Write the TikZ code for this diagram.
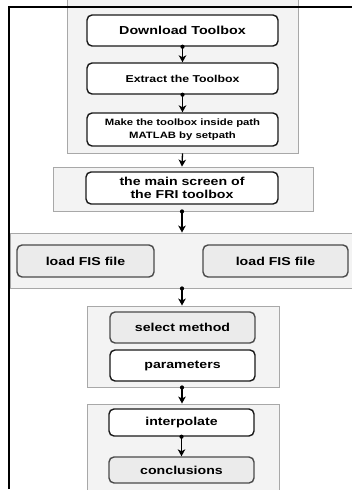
\documentclass[tikz,border=0pt]{standalone}
\usepackage{fontspec}
\setmainfont{Liberation Sans}
\newfontfamily\widesans[FakeStretch=1.23]{Liberation Sans}
\usetikzlibrary{arrows.meta}
\definecolor{panelfill}{HTML}{F3F3F3}
\definecolor{paneldraw}{HTML}{A8A8A8}
\definecolor{grayfill}{HTML}{EBEBEB}
\definecolor{graydraw}{HTML}{4A4A4A}
\newcommand{\fsz}[2]{\widesans\bfseries\fontsize{#1}{#2}\selectfont}
\tikzset{
  panel/.style={draw=paneldraw, fill=panelfill, line width=0.9pt, inner sep=0pt},
  wbox/.style={draw=black!90, fill=white, rounded corners=5pt, line width=1.4pt, inner sep=0pt, align=center, font=\fsz{11.5}{13.3}},
  gbox/.style={draw=graydraw, fill=grayfill, rounded corners=5pt, line width=1.4pt, inner sep=0pt, align=center, font=\fsz{11.5}{13.3}},
  flow/.style={-{Stealth[length=7pt,width=7.5pt,inset=2pt]}, line width=1.3pt},
  dotmark/.style={circle, fill=black, inner sep=0pt, minimum size=4.2pt}
}
\begin{document}
\begin{tikzpicture}[x=1pt,y=-1pt]
\useasboundingbox (0,0) rectangle (352,490);
\clip (0,0) rectangle (352,490);
% panels
\node[panel, minimum width=231, minimum height=163] (p1) at (182.5,71.5) {};
\node[panel, minimum width=260, minimum height=44] (p2) at (183,189) {};
\node[panel, minimum width=350, minimum height=55] (p3) at (185,260.5) {};
\node[panel, minimum width=192, minimum height=81] (p4) at (183,346.5) {};
\node[panel, minimum width=192, minimum height=100] (p5) at (183,454) {};
% frame
\draw[line width=2.2pt] (9,489) -- (9,7) -- (353,7);
% boxes
\node[wbox, minimum width=191, minimum height=31, font=\fsz{11.6}{13.3}] (dl) at (182.5,30.5) {Download Toolbox};
\node[wbox, minimum width=191, minimum height=31, font=\fsz{10}{12}] (ex) at (182.5,78.5) {Extract the Toolbox};
\node[wbox, minimum width=191, minimum height=33, font=\fsz{9.2}{13.3}] (mk) at (182.5,129.5) {Make the toolbox inside path\\MATLAB by setpath};
\node[wbox, minimum width=192, minimum height=32] (ms) at (182,188) {the main screen of\\the FRI toolbox};
\node[gbox, minimum width=137, minimum height=32] (l1) at (85.5,261) {load FIS file};
\node[gbox, minimum width=145, minimum height=32] (l2) at (275.5,261) {load FIS file};
\node[gbox, minimum width=145, minimum height=31] (sm) at (182.5,327.5) {select method};
\node[wbox, minimum width=145, minimum height=31] (pa) at (182.5,365.5) {parameters};
\node[wbox, minimum width=145, minimum height=27] (ip) at (181.5,422.5) {interpolate};
\node[gbox, minimum width=145, minimum height=26] (cc) at (181.5,470) {conclusions};
% connectors
\draw[flow] (dl.south) -- (ex.north);
\node[dotmark] at (dl.south) {};
\draw[flow] (ex.south) -- (mk.north);
\node[dotmark] at (ex.south) {};
\draw[flow] (p1.south -| dl.south) -- (ms.north |- p2.north);
\draw[flow] (p2.south -| ms.south) -- (ms.south |- p3.north);
\node[dotmark] at (p2.south -| ms.south) {};
\draw[flow] (p3.south -| ms.south) -- (ms.south |- p4.north);
\node[dotmark] at (p3.south -| ms.south) {};
\draw[flow] (p4.south -| ms.south) -- (ms.south |- p5.north);
\node[dotmark] at (p4.south -| ms.south) {};
\draw[flow] (ip.south) -- (cc.north);
\node[dotmark] at (ip.south) {};
\end{tikzpicture}
\end{document}
